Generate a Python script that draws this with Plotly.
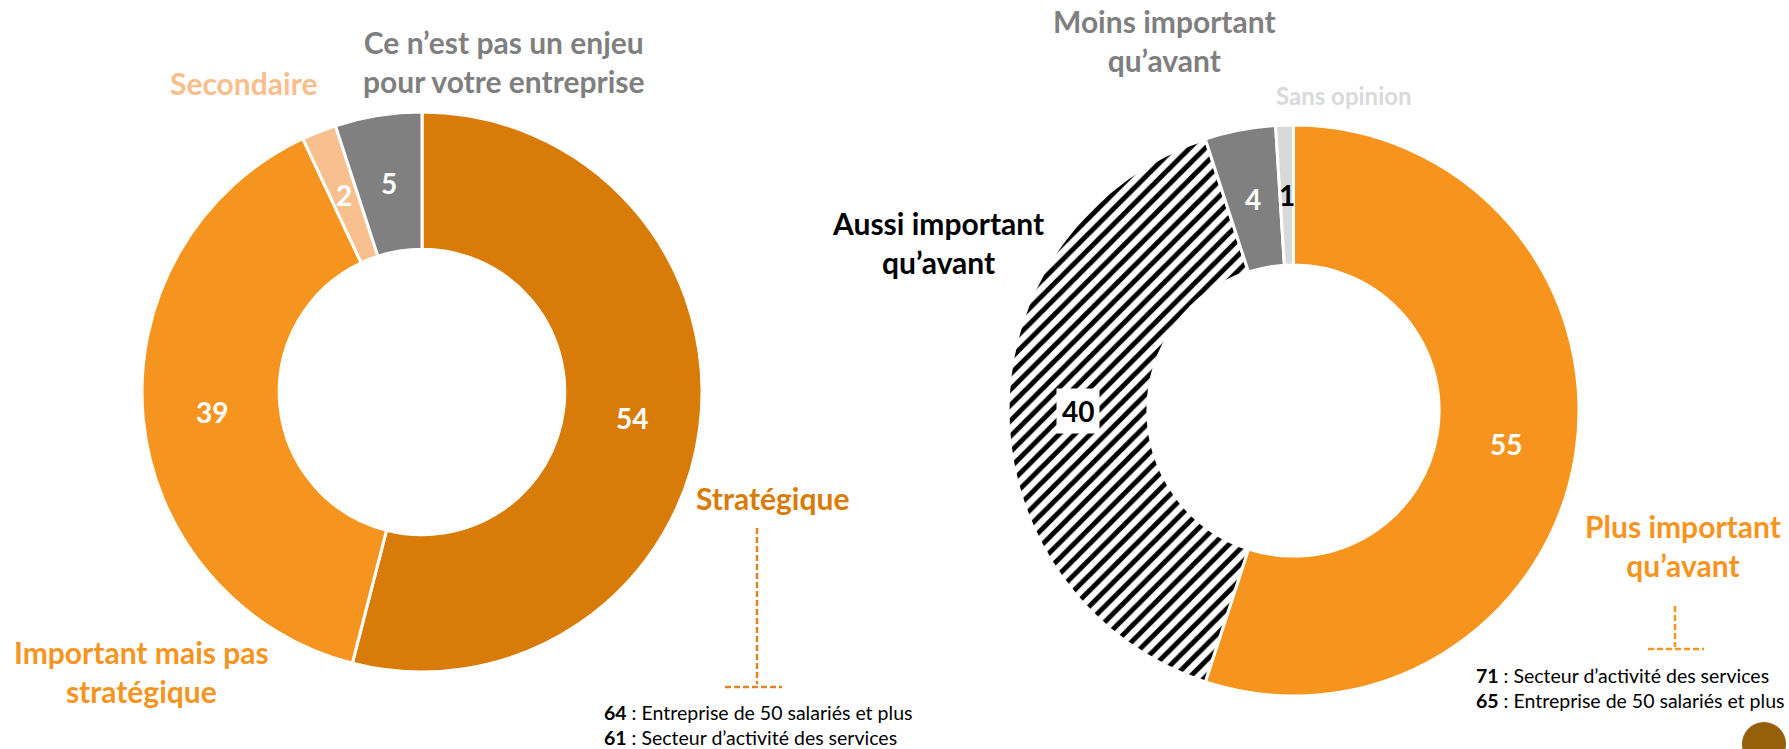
import math
import plotly.graph_objects as go

# ---------------- data ----------------
left_labels = ["Stratégique", "Important mais pas<br>stratégique", "Secondaire",
               "Ce n’est pas un enjeu<br>pour votre entreprise"]
left_values = [54, 39, 2, 5]
left_colors = ["#D97B08", "#F5951F", "#F9C08F", "#808080"]
left_value_colors = ["white", "white", "white", "white"]

right_labels = ["Plus important<br>qu’avant", "Aussi important<br>qu’avant",
                "Moins important<br>qu’avant", "Sans opinion"]
right_values = [55, 40, 4, 1]
right_colors = ["#F7941D", "white", "#808080", "#D9D9D9"]
right_value_colors = ["white", "black", "white", "black"]

left_note_values = [64, 61]
left_note_texts = ["Entreprise de 50 salariés et plus", "Secteur d’activité des services"]
right_note_values = [71, 65]
right_note_texts = ["Secteur d’activité des services", "Entreprise de 50 salariés et plus"]

# ---------------- layout constants ----------------
W, H = 1789, 749
FONT = "Lato"
HOLE = 0.51
L_CX, L_CY, L_R = 422, 392, 280
R_CX, R_CY, R_R = 1293.5, 410.5, 285.5


def px(x):
    return x / W


def py(y):
    return 1 - y / H


def domain(cx, cy, r):
    return dict(x=[px(cx - r), px(cx + r)], y=[py(cy + r), py(cy - r)])


fig = go.Figure()

fig.add_trace(go.Pie(
    labels=left_labels, values=left_values, sort=False, direction="clockwise",
    rotation=0, hole=HOLE, textinfo="none", hoverinfo="label+value",
    marker=dict(colors=left_colors, line=dict(color="white", width=3)),
    domain=domain(L_CX, L_CY, L_R), showlegend=False,
))

fig.add_trace(go.Pie(
    labels=right_labels, values=right_values, sort=False, direction="clockwise",
    rotation=0, hole=HOLE, textinfo="none", hoverinfo="label+value",
    marker=dict(colors=right_colors, line=dict(color="white", width=3),
                pattern=dict(shape=["", "/", "", ""], fgcolor="black",
                             bgcolor="white", size=11, solidity=0.45)),
    domain=domain(R_CX, R_CY, R_R), showlegend=False,
))

annotations = []


def value_labels(values, cx, cy, r, colors, boxed=()):
    total = sum(values)
    rmid = r * (1 + HOLE) / 2
    cum = 0
    for i, v in enumerate(values):
        th = 2 * math.pi * (cum + v / 2) / total
        cum += v
        x = cx + rmid * math.sin(th)
        y = cy - rmid * math.cos(th)
        a = dict(x=px(x), y=py(y), xref="paper", yref="paper", showarrow=False,
                 text=f"<b>{v}</b>", xanchor="center", yanchor="middle",
                 font=dict(family=FONT, size=28, color=colors[i]))
        if i in boxed:
            a.update(bgcolor="white", borderpad=5)
        annotations.append(a)


value_labels(left_values, L_CX, L_CY, L_R, left_value_colors)
value_labels(right_values, R_CX, R_CY, R_R, right_value_colors, boxed=(1,))


def label(text, x, y, color, size=30, align="center"):
    annotations.append(dict(x=px(x), y=py(y), xref="paper", yref="paper",
                            showarrow=False, text=f"<b>{text}</b>", align=align,
                            xanchor="center", yanchor="middle",
                            font=dict(family=FONT, size=size, color=color)))


# left category labels
label(left_labels[0], 772, 498, "#D97B08")
label(left_labels[1], 141, 671, "#F5951F")
label(left_labels[2], 243, 83, "#F9BE8C")
label(left_labels[3], 504, 62, "#7F7F7F")
# right category labels
label(right_labels[0], 1683, 545, "#F7941D")
label(right_labels[1], 938, 242, "#000000")
label(right_labels[2], 1164, 41, "#7F7F7F")
label(right_labels[3], 1344, 96, "#D9D9D9", size=24)


def notes(vals, texts, x, y0, dy):
    for i, (v, t) in enumerate(zip(vals, texts)):
        annotations.append(dict(x=px(x), y=py(y0 + i * dy), xref="paper", yref="paper",
                                showarrow=False, text=f"<b>{v}</b> : {t}",
                                xanchor="left", yanchor="middle",
                                font=dict(family=FONT, size=19.5, color="black")))


notes(left_note_values, left_note_texts, 602, 712, 25)
notes(right_note_values, right_note_texts, 1474, 675, 25)

DASH = "6px,3px"
shapes = [
    # left connector
    dict(type="line", xref="paper", yref="paper", x0=px(757), x1=px(757), y0=py(528), y1=py(684),
         line=dict(color="#DD8526", width=2.5, dash=DASH)),
    dict(type="line", xref="paper", yref="paper", x0=px(725), x1=px(782), y0=py(687), y1=py(687),
         line=dict(color="#DD8526", width=2.5, dash=DASH)),
    # right connector
    dict(type="line", xref="paper", yref="paper", x0=px(1675), x1=px(1675), y0=py(606), y1=py(647),
         line=dict(color="#F7941D", width=2.5, dash=DASH)),
    dict(type="line", xref="paper", yref="paper", x0=px(1648), x1=px(1704), y0=py(649), y1=py(649),
         line=dict(color="#F7941D", width=2.5, dash=DASH)),
    # decorative corner circle
    dict(type="circle", xref="paper", yref="paper", x0=px(1742), x1=px(1786), y0=py(766), y1=py(722),
         fillcolor="#96600A", line=dict(width=0)),
]

fig.update_layout(
    width=W, height=H, margin=dict(l=0, r=0, t=0, b=0),
    paper_bgcolor="white", plot_bgcolor="white",
    annotations=annotations, shapes=shapes, showlegend=False,
    font=dict(family=FONT),
)

fig.write_html("out.html", config={"displayModeBar": False},
               post_script="document.body.style.margin='0';document.body.style.overflow='hidden';")
